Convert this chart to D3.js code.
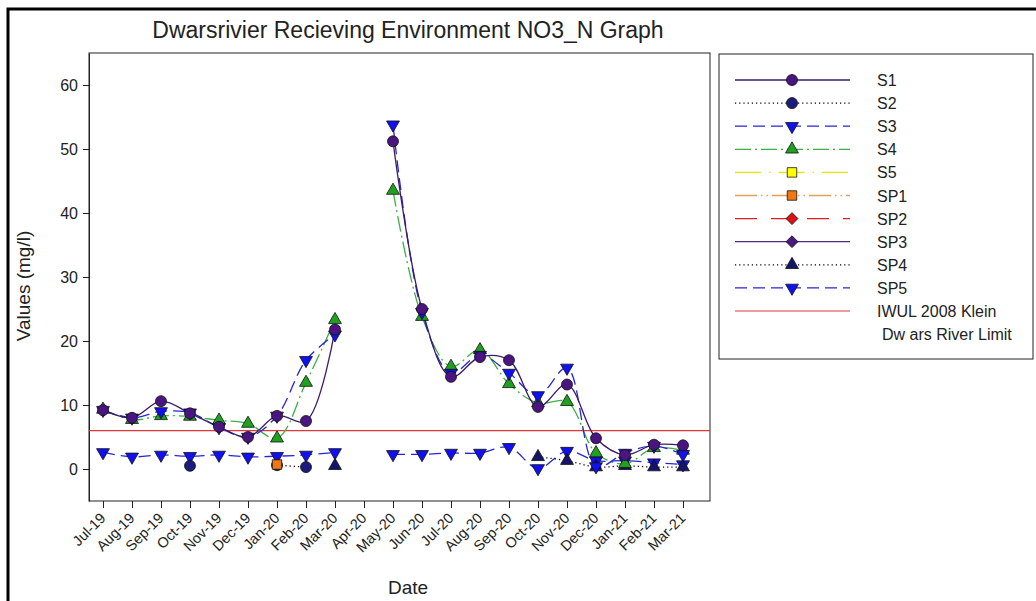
<!DOCTYPE html>
<html>
<head>
<meta charset="utf-8">
<script src="https://cdn.jsdelivr.net/npm/d3@7"></script>
<style>
  body { margin: 0; background: #fff; }
  svg { display: block; font-family: "Liberation Sans", Arial, sans-serif; }
</style>
</head>
<body>
<svg id="chart" width="1036" height="601"></svg>
<script>
/***** Data *****/
var months = ["Jul-19", "Aug-19", "Sep-19", "Oct-19", "Nov-19", "Dec-19", "Jan-20", "Feb-20", "Mar-20", "Apr-20",
  "May-20", "Jun-20", "Jul-20", "Aug-20", "Sep-20", "Oct-20", "Nov-20", "Dec-20", "Jan-21", "Feb-21", "Mar-21"];

var s1 = [9.2, 8.0, 10.6, 8.7, 6.6, 5.0, 8.3, 7.5, 21.8, null, 51.2, 25.0, 14.4, 17.5, 17.0, 9.7, 13.2, 4.8, 2.2, 3.8, 3.7];
var s2 = [null, null, null, 0.5, null, null, 0.6, 0.3, null, null, null, null, null, null, null, null, null, null, null, null, null];
var s3 = [9.2, 8.0, 9.0, 8.8, 6.5, 5.0, 8.3, 17.0, 21.0, null, 53.8, 24.5, 15.0, 17.8, 15.0, 11.5, 15.8, 0.4, 2.5, 3.6, 2.3];
var s4 = [9.3, 7.7, 8.3, 8.2, 7.6, 7.1, 4.8, 13.5, 23.3, null, 43.5, 23.8, 16.0, 18.6, 13.3, 10.3, 10.5, 2.5, 0.8, 3.3, 2.9];
var s5 = [null, null, null, null, null, null, null, null, null, null, null, null, null, null, null, null, null, null, null, null, null];
var sp1 = [null, null, null, null, null, null, 0.7, null, null, null, null, null, null, null, null, null, null, null, null, null, null];
var sp2 = [null, null, null, null, null, null, null, null, null, null, null, null, null, null, null, null, null, null, null, null, null];
var sp3 = [null, null, null, null, null, null, null, null, null, null, null, null, null, null, null, null, null, null, null, null, null];
var sp4 = [null, null, null, null, null, null, null, null, 0.5, null, null, null, null, null, null, 1.9, 1.3, 0.3, 0.5, 0.3, 0.3];
var sp5 = [2.6, 1.9, 2.2, 2.0, 2.2, 1.9, 2.0, 2.2, 2.6, null, 2.3, 2.3, 2.5, 2.5, 3.4, 0.1, 2.8, 1.3, 1.3, 1.0, 0.7];

var limitValue = 6;
var yTicks = [0, 10, 20, 30, 40, 50, 60];

/***** Series styles *****/
var series = [
  {name: "S1", values: s1, line: "#3b1a6b", dash: null, symbol: d3.symbolCircle, rot: 0, fill: "#4a1580"},
  {name: "S2", values: s2, line: "#000", dash: "1.2,3", symbol: d3.symbolCircle, rot: 0, fill: "#1c1c7c"},
  {name: "S3", values: s3, line: "#2626d6", dash: "12,6", symbol: d3.symbolTriangle, rot: 180, fill: "#1010f0"},
  {name: "S4", values: s4, line: "#3cb043", dash: "16,4,2,4", symbol: d3.symbolTriangle, rot: 0, fill: "#1fa01f"},
  {name: "S5", values: s5, line: "#e6e600", dash: "26,8,1.5,8", symbol: d3.symbolSquare, rot: 0, fill: "#ffff00"},
  {name: "SP1", values: sp1, line: "#e0a060", dash: "22,4,1.5,4,1.5,4", symbol: d3.symbolSquare, rot: 0, fill: "#f07810"},
  {name: "SP2", values: sp2, line: "#e02020", dash: "22,14", symbol: d3.symbolSquare, rot: 45, fill: "#e01010"},
  {name: "SP3", values: sp3, line: "#4b2a85", dash: null, symbol: d3.symbolSquare, rot: 45, fill: "#4b1a80"},
  {name: "SP4", values: sp4, line: "#000", dash: "1.2,3", symbol: d3.symbolTriangle, rot: 0, fill: "#141468"},
  {name: "SP5", values: sp5, line: "#2626d6", dash: "12,6", symbol: d3.symbolTriangle, rot: 180, fill: "#1010f0"}
];

function sizeOf(s) {
  if (s.symbol === d3.symbolCircle) return 95;
  if (s.symbol === d3.symbolTriangle) return 72;
  if (s.rot === 45) return 70;
  return 90;
}

/***** Layout *****/
var plot = {left: 89, top: 53, right: 710, bottom: 501};
var svg = d3.select("#chart");

// outer frame
svg.append("rect").attr("x", 8).attr("y", 9).attr("width", 1100).attr("height", 700)
  .attr("fill", "none").attr("stroke", "#000").attr("stroke-width", 3);

/***** Scales *****/
var x = d3.scalePoint().domain(months).range([103, 683]);
var y = d3.scaleLinear().domain([-5, 65]).range([plot.bottom, plot.top]);

// plot box
svg.append("rect").attr("x", plot.left).attr("y", plot.top)
  .attr("width", plot.right - plot.left).attr("height", plot.bottom - plot.top)
  .attr("fill", "none").attr("stroke", "#222").attr("stroke-width", 1);

// title
svg.append("text").attr("x", 408).attr("y", 38).attr("text-anchor", "middle")
  .attr("font-size", 23).attr("fill", "#222")
  .text("Dwarsrivier Recieving Environment NO3_N Graph");

/***** Axes *****/
var yAxis = d3.axisLeft(y).tickValues(yTicks).tickSize(6).tickSizeOuter(0).tickPadding(5);
var gy = svg.append("g").attr("transform", "translate(" + plot.left + ",0)").call(yAxis);
gy.select(".domain").attr("stroke", "#222");
gy.selectAll(".tick line").attr("stroke", "#222");
gy.selectAll(".tick text").attr("font-size", 16).attr("fill", "#222")
  .attr("font-family", "Liberation Sans, Arial, sans-serif");

var xAxis = d3.axisBottom(x).tickSize(7).tickSizeOuter(0);
var gx = svg.append("g").attr("transform", "translate(0," + plot.bottom + ")").call(xAxis);
gx.select(".domain").remove();
gx.selectAll(".tick line").attr("stroke", "#222");
gx.selectAll(".tick text").attr("font-size", 14.5).attr("fill", "#222")
  .attr("font-family", "Liberation Sans, Arial, sans-serif")
  .attr("text-anchor", "end").attr("dy", null).attr("y", 0)
  .attr("transform", "translate(3,18) rotate(-45)");

svg.append("text").attr("transform", "translate(30,286) rotate(-90)")
  .attr("text-anchor", "middle").attr("font-size", 19).attr("fill", "#222").text("Values (mg/l)");
svg.append("text").attr("x", 408).attr("y", 594).attr("text-anchor", "middle")
  .attr("font-size", 19).attr("fill", "#222").text("Date");

/***** Limit line *****/
svg.append("line").attr("x1", plot.left).attr("x2", plot.right)
  .attr("y1", y(limitValue)).attr("y2", y(limitValue))
  .attr("stroke", "#e03838").attr("stroke-width", 1.2);

/***** Series *****/
var line = d3.line()
  .defined(function (d) { return d.v != null; })
  .x(function (d) { return x(d.m); })
  .y(function (d) { return y(d.v); })
  .curve(d3.curveCatmullRom.alpha(0.5));

// back to front; SP1 sits on top of S2 as in the original
var drawOrder = [9, 8, 7, 6, 4, 3, 1, 5, 2, 0];
var gLines = svg.append("g");
var gMarks = svg.append("g");
drawOrder.forEach(function (i) {
  var s = series[i];
  var pts = months.map(function (m, k) { return {m: m, v: s.values[k]}; });
  gLines.append("path").datum(pts).attr("d", line)
    .attr("fill", "none").attr("stroke", s.line).attr("stroke-width", 1.3)
    .attr("stroke-dasharray", s.dash);
});
drawOrder.forEach(function (i) {
  var s = series[i];
  var pts = months.map(function (m, k) { return {m: m, v: s.values[k]}; })
    .filter(function (d) { return d.v != null; });
  gMarks.selectAll(null).data(pts).enter().append("path")
    .attr("d", d3.symbol().type(s.symbol).size(sizeOf(s)))
    .attr("transform", function (d) {
      return "translate(" + x(d.m) + "," + y(d.v) + ") rotate(" + s.rot + ")";
    })
    .attr("fill", s.fill).attr("stroke", "#111").attr("stroke-width", 0.8);
});

/***** Legend *****/
var lg = svg.append("g");
lg.append("rect").attr("x", 719).attr("y", 54).attr("width", 314).attr("height", 305)
  .attr("fill", "#fff").attr("stroke", "#222").attr("stroke-width", 1);

var rowY = function (i) { return 80 + i * 23.1; };
series.forEach(function (s, i) {
  var yy = rowY(i);
  lg.append("line").attr("x1", 735).attr("x2", 850).attr("y1", yy).attr("y2", yy)
    .attr("stroke", s.line).attr("stroke-width", 1.3).attr("stroke-dasharray", s.dash);
  lg.append("path").attr("d", d3.symbol().type(s.symbol).size(sizeOf(s)))
    .attr("transform", "translate(792," + yy + ") rotate(" + s.rot + ")")
    .attr("fill", s.fill).attr("stroke", "#111").attr("stroke-width", 0.8);
  lg.append("text").attr("x", 877).attr("y", yy + 6).attr("font-size", 16).attr("fill", "#222").text(s.name);
});
lg.append("line").attr("x1", 735).attr("x2", 850).attr("y1", rowY(10)).attr("y2", rowY(10))
  .attr("stroke", "#e03838").attr("stroke-width", 1.2);
lg.append("text").attr("x", 877).attr("y", rowY(10) + 6).attr("font-size", 16).attr("fill", "#222").text("IWUL 2008 Klein");
lg.append("text").attr("x", 882).attr("y", rowY(11) + 6).attr("font-size", 16).attr("fill", "#222").text("Dw ars River Limit");
</script>
</body>
</html>
